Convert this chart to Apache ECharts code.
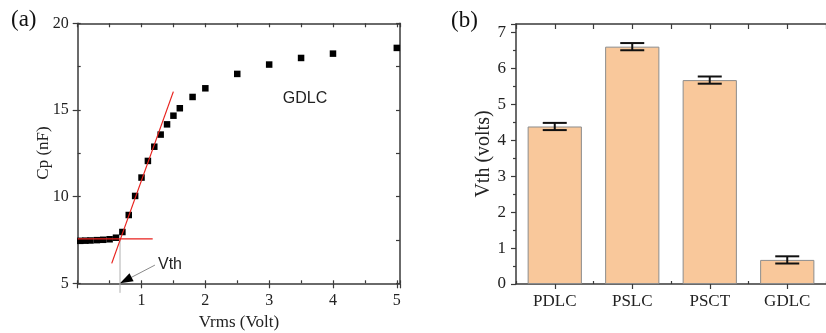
<!DOCTYPE html>
<html>
<head>
<meta charset="utf-8">
<script src="https://cdn.jsdelivr.net/npm/echarts@6/dist/echarts.min.js"></script>
<style>
html,body{margin:0;padding:0;background:#fff;}
#c{width:826px;height:333px;}
</style>
</head>
<body>
<div id="c"></div>
<script>
// ---- Data: panel (a) ----
const vrms = [0.04, 0.12, 0.2, 0.3, 0.4, 0.5, 0.6, 0.7, 0.8, 0.9, 1.0, 1.1, 1.2, 1.3, 1.4, 1.5, 1.6, 1.8, 2.0, 2.5, 3.0, 3.5, 4.0, 5.0];
const cp   = [7.45, 7.46, 7.47, 7.49, 7.51, 7.54, 7.63, 7.96, 8.94, 10.04, 11.1, 12.06, 12.88, 13.58, 14.17, 14.67, 15.1, 15.75, 16.25, 17.08, 17.62, 18.0, 18.25, 18.58];
const fitLineX = [0.533, 1.499];
const fitLineY = [6.15, 16.06];
const baseLineX = [0.0, 1.175];
const baseLineY = [7.56, 7.56];
const vthX = 0.663;
const vthLineY = [7.56, 4.45];
const arrowStart = [1.21, 6.05];
const arrowTip = [0.663, 5.0];
const xTicksA = [1, 2, 3, 4, 5];

// ---- Data: panel (b) ----
const categories = ['PDLC', 'PSLC', 'PSCT', 'GDLC'];
const vth = [4.38, 6.6, 5.67, 0.67];
const vthErr = [0.1, 0.1, 0.1, 0.1];

const serif = '"Liberation Serif", "Times New Roman", serif';
const sans = '"Liberation Sans", Arial, sans-serif';
const axisColor = '#3a3a3a';

const gA = {left: 77.7, top: 23.3, width: 322.3, height: 260};
const gB = {left: 516, top: 24, width: 322.4, height: 260};

const chart = echarts.init(document.getElementById('c'), null, {renderer: 'canvas'});

const hiddenLabel = {show: false};
function line(show) {
  return {show: show, onZero: false, lineStyle: {color: axisColor, width: 1.5}};
}
function tick(inside, len) {
  return {show: true, inside: inside, length: len, lineStyle: {color: axisColor, width: 1.2}};
}

const option = {
  animation: false,
  backgroundColor: '#fff',
  grid: [
    Object.assign({}, gA),   // 0: panel a main
    Object.assign({}, gA),   // 1: panel a top/right frame
    Object.assign({}, gA),   // 2: panel a minor inward ticks
    Object.assign({}, gB),   // 3: panel b main
    Object.assign({}, gB),   // 4: panel b top frame
    Object.assign({}, gB)    // 5: panel b boundary ticks (bottom inward)
  ],
  xAxis: [
    { // 0
      gridIndex: 0, type: 'value', min: 0, max: 5.05, interval: 1, position: 'bottom',
      axisLine: line(true), axisTick: tick(false, 5), splitLine: {show: false},
      axisLabel: {margin: 9, fontFamily: serif, fontSize: 16, color: '#222',
        formatter: v => (xTicksA.indexOf(v) >= 0 ? String(v) : '')}
    },
    { // 1 top frame
      gridIndex: 1, type: 'value', min: 0, max: 5.05, interval: 0.5, position: 'top',
      axisLine: line(true), axisTick: tick(true, 4), splitLine: {show: false}, axisLabel: hiddenLabel
    },
    { // 2 bottom minor inward
      gridIndex: 2, type: 'value', min: 0, max: 5.05, interval: 0.5, position: 'bottom',
      axisLine: line(false), axisTick: tick(true, 3), splitLine: {show: false}, axisLabel: hiddenLabel
    },
    { // 3 panel b categories
      gridIndex: 3, type: 'category', data: categories, position: 'bottom',
      axisLine: line(true),
      axisTick: {show: true, alignWithLabel: true, inside: false, length: 5, lineStyle: {color: axisColor, width: 1.2}},
      axisLabel: {margin: 9, fontFamily: serif, fontSize: 17, color: '#222'},
      splitLine: {show: false}
    },
    { // 4 panel b top frame
      gridIndex: 4, type: 'value', min: -0.5, max: 3.5, interval: 0.5, position: 'top',
      axisLine: line(true), axisTick: tick(true, 5), splitLine: {show: false}, axisLabel: hiddenLabel
    },
    { // 5 panel b boundary ticks
      gridIndex: 5, type: 'value', min: -0.5, max: 3.5, interval: 1, position: 'bottom',
      axisLine: line(false), axisTick: tick(true, 3), splitLine: {show: false}, axisLabel: hiddenLabel
    }
  ],
  yAxis: [
    { // 0
      gridIndex: 0, type: 'value', min: 5, max: 20, interval: 5, position: 'left',
      axisLine: line(true), axisTick: tick(false, 5), splitLine: {show: false},
      axisLabel: {margin: 9, fontFamily: serif, fontSize: 16, color: '#222'}
    },
    { // 1 right frame
      gridIndex: 1, type: 'value', min: 5, max: 20, interval: 2.5, position: 'right',
      axisLine: line(true), axisTick: tick(true, 4), splitLine: {show: false}, axisLabel: hiddenLabel
    },
    { // 2 left minor inward
      gridIndex: 2, type: 'value', min: 5, max: 20, interval: 2.5, position: 'left',
      axisLine: line(false), axisTick: tick(true, 3), splitLine: {show: false}, axisLabel: hiddenLabel
    },
    { // 3 panel b values
      gridIndex: 3, type: 'value', min: 0, max: 7.23, interval: 1, position: 'left',
      axisLine: line(true), axisTick: tick(false, 5),
      minorTick: {show: true, splitNumber: 2, length: 3, lineStyle: {color: axisColor, width: 1.2}},
      splitLine: {show: false},
      axisLabel: {margin: 10, fontFamily: serif, fontSize: 17, color: '#222',
        formatter: v => (Number.isInteger(v) ? String(v) : '')}
    },
    { gridIndex: 4, type: 'value', show: false, min: 0, max: 7.23 },
    { gridIndex: 5, type: 'value', show: false, min: 0, max: 7.23 }
  ],
  series: [
    {
      type: 'scatter', xAxisIndex: 0, yAxisIndex: 0,
      data: vrms.map((x, i) => [x, cp[i]]),
      symbol: 'rect', symbolSize: 6.5,
      itemStyle: {color: '#000', opacity: 1}, z: 3
    },
    {
      type: 'line', xAxisIndex: 0, yAxisIndex: 0,
      data: fitLineX.map((x, i) => [x, fitLineY[i]]),
      symbol: 'none', lineStyle: {color: '#e8201c', width: 1.2}, z: 4
    },
    {
      type: 'line', xAxisIndex: 0, yAxisIndex: 0,
      data: baseLineX.map((x, i) => [x, baseLineY[i]]),
      symbol: 'none', lineStyle: {color: '#e8201c', width: 1.2}, z: 4
    },
    {
      type: 'line', xAxisIndex: 0, yAxisIndex: 0, clip: false,
      data: vthLineY.map(y => [vthX, y]),
      symbol: 'none', lineStyle: {color: '#b0b0b0', width: 1}, z: 2
    },
    {
      type: 'custom', xAxisIndex: 0, yAxisIndex: 0, clip: false,
      data: [[arrowStart[0], arrowStart[1], arrowTip[0], arrowTip[1]]],
      renderItem: function (params, api) {
        const s = api.coord([api.value(0), api.value(1)]);
        const t = api.coord([api.value(2), api.value(3)]);
        const dx = s[0] - t[0], dy = s[1] - t[1];
        const L = Math.sqrt(dx * dx + dy * dy);
        const ux = dx / L, uy = dy / L;
        const headLen = 13, headHalf = 4.5;
        const bx = t[0] + ux * headLen, by = t[1] + uy * headLen;
        return {
          type: 'group',
          children: [
            {type: 'line', shape: {x1: s[0], y1: s[1], x2: bx, y2: by}, style: {stroke: '#8a8a8a', lineWidth: 1}},
            {type: 'polygon', shape: {points: [
              [t[0], t[1]],
              [bx - uy * headHalf, by + ux * headHalf],
              [bx + uy * headHalf, by - ux * headHalf]
            ]}, style: {fill: '#000'}}
          ]
        };
      },
      z: 5
    },
    {
      type: 'bar', xAxisIndex: 3, yAxisIndex: 3,
      data: vth, barWidth: '70%',
      itemStyle: {color: '#f9c89b', borderColor: '#8c8c8c', borderWidth: 1}, z: 2
    },
    {
      type: 'custom', xAxisIndex: 3, yAxisIndex: 3,
      data: vth.map((v, i) => [i, v, vthErr[i]]),
      renderItem: function (params, api) {
        const x = api.value(0), v = api.value(1), e = api.value(2);
        const top = api.coord([x, v + e]);
        const bot = api.coord([x, v - e]);
        const half = 12;
        const st = {stroke: '#111', lineWidth: 2};
        return {
          type: 'group',
          children: [
            {type: 'line', shape: {x1: top[0], y1: top[1], x2: bot[0], y2: bot[1]}, style: st},
            {type: 'line', shape: {x1: top[0] - half, y1: top[1], x2: top[0] + half, y2: top[1]}, style: st},
            {type: 'line', shape: {x1: bot[0] - half, y1: bot[1], x2: bot[0] + half, y2: bot[1]}, style: st}
          ]
        };
      },
      z: 4
    }
  ],
  graphic: [
    {type: 'text', left: 11, top: 8, style: {text: '(a)', fontFamily: serif, fontSize: 23, fill: '#111'}},
    {type: 'text', left: 451, top: 9, style: {text: '(b)', fontFamily: serif, fontSize: 23, fill: '#111'}},
    {type: 'text', x: 44, y: 153, rotation: Math.PI / 2,
      style: {text: 'Cp (nF)', fontFamily: serif, fontSize: 17, fill: '#222', align: 'center', verticalAlign: 'middle'}},
    {type: 'text', x: 239, y: 323,
      style: {text: 'Vrms (Volt)', fontFamily: serif, fontSize: 17, fill: '#222', align: 'center', verticalAlign: 'middle'}},
    {type: 'text', x: 484, y: 154, rotation: Math.PI / 2,
      style: {text: 'Vth (volts)', fontFamily: serif, fontSize: 20, fill: '#222', align: 'center', verticalAlign: 'middle'}},
    {type: 'text', x: 305, y: 99,
      style: {text: 'GDLC', fontFamily: sans, fontSize: 16, fill: '#222', align: 'center', verticalAlign: 'middle'}},
    {type: 'text', x: 170, y: 265,
      style: {text: 'Vth', fontFamily: sans, fontSize: 16, fill: '#222', align: 'center', verticalAlign: 'middle'}}
  ]
};
chart.setOption(option);
</script>
</body>
</html>
